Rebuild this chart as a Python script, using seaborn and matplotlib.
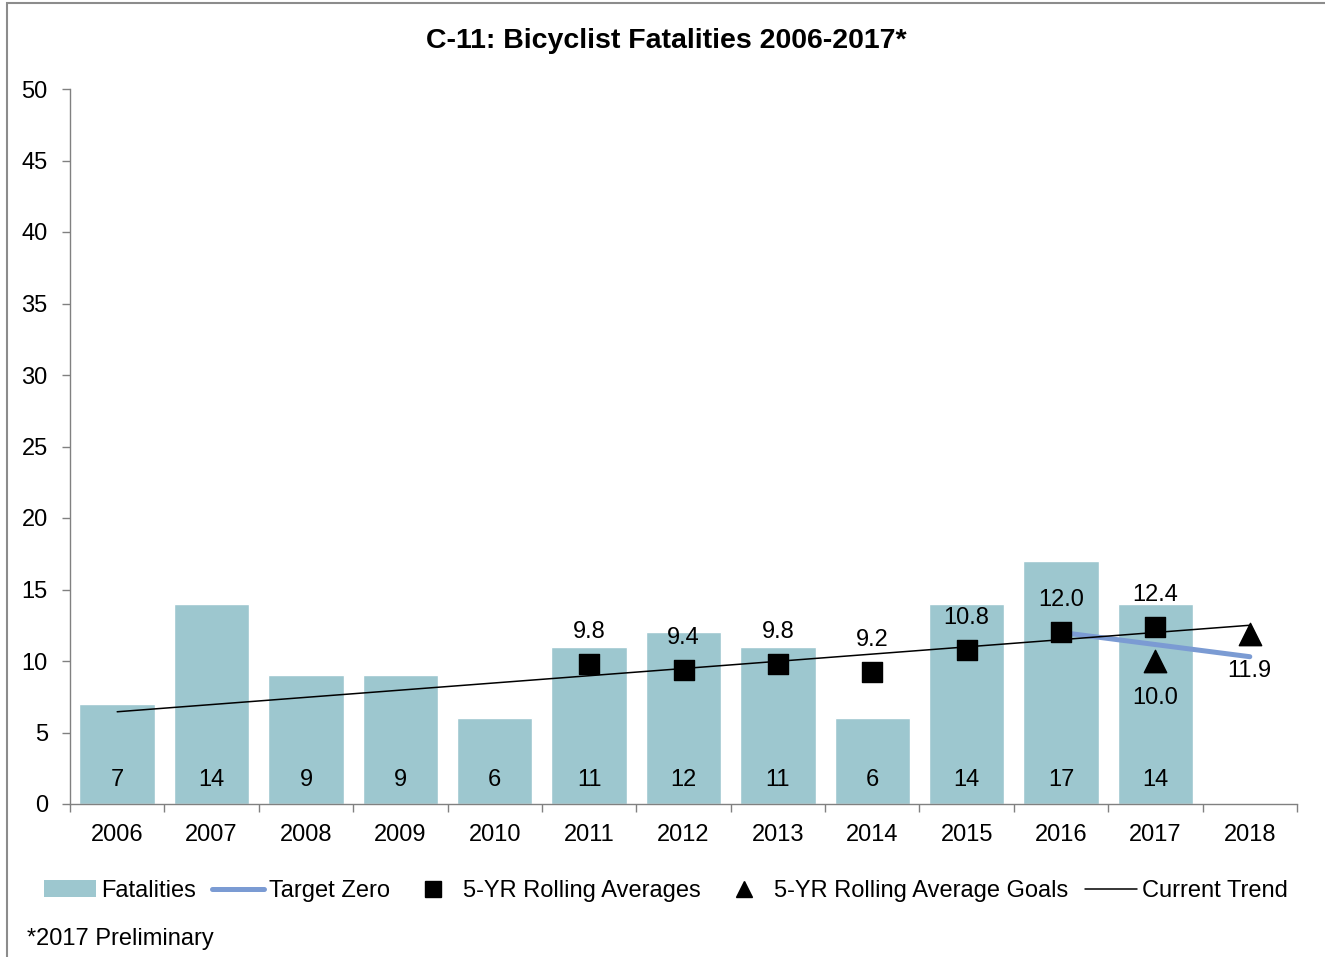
import matplotlib
matplotlib.use("Agg")
import matplotlib.pyplot as plt
import seaborn as sns
import pandas as pd
from matplotlib.lines import Line2D
from matplotlib.patches import Patch, Rectangle

# ---- data ----
years = ["2006", "2007", "2008", "2009", "2010", "2011", "2012", "2013",
         "2014", "2015", "2016", "2017", "2018"]
fatality_years = years[:12]
fatalities = [7, 14, 9, 9, 6, 11, 12, 11, 6, 14, 17, 14]
avg_years = ["2011", "2012", "2013", "2014", "2015", "2016", "2017"]
rolling_avg = [9.8, 9.4, 9.8, 9.2, 10.8, 12.0, 12.4]
goal_years = ["2017", "2018"]
goals = [10.0, 11.9]
target_years = ["2016", "2017", "2018"]
target_zero = [12.0, 11.15, 10.3]
trend_years = ["2006", "2018"]
trend = [6.45, 12.5]
yticks = [0, 5, 10, 15, 20, 25, 30, 35, 40, 45, 50]

sns.set_theme(style="white")
plt.rcParams["font.family"] = ["Liberation Sans", "DejaVu Sans"]
plt.rcParams["text.color"] = "black"
plt.rcParams["xtick.labelcolor"] = "black"
plt.rcParams["ytick.labelcolor"] = "black"

FS = 17

W, H = 1325, 957
fig = plt.figure(figsize=(W / 100, H / 100), dpi=100)
ax = fig.add_axes([70 / W, 1 - 804 / H, (1297 - 70) / W, (804 - 89) / H])

bar_color = "#9DC7CF"
df = pd.DataFrame({"year": fatality_years, "fatalities": fatalities})
sns.barplot(data=df, x="year", y="fatalities", order=years, color=bar_color,
            width=0.8, saturation=1, ax=ax, zorder=1)

pos = {y: i for i, y in enumerate(years)}

# bar labels at bottom inside bars
for y, v in zip(fatality_years, fatalities):
    ax.text(pos[y], 1.65, str(v), ha="center", va="center", fontsize=FS,
            color="black", zorder=5)

# current trend
ax.plot([pos[y] for y in trend_years], trend, color="black", lw=1.1, zorder=3)

# target zero
ax.plot([pos[y] for y in target_years], target_zero, color="#7B9BD3", lw=3.6,
        solid_capstyle="round", zorder=2)

# rolling averages
ax.scatter([pos[y] for y in avg_years], rolling_avg, marker="s", s=190,
           color="black", zorder=4)
for y, v in zip(avg_years, rolling_avg):
    ax.annotate(f"{v:.1f}", (pos[y], v), xytext=(0, 23), textcoords="offset points",
                ha="center", va="center", fontsize=FS, zorder=5)

# goals
ax.scatter([pos[y] for y in goal_years], goals, marker="^", s=260,
           color="black", zorder=4)
for y, v in zip(goal_years, goals):
    ax.annotate(f"{v:.1f}", (pos[y], v), xytext=(0, -27), textcoords="offset points",
                ha="center", va="center", fontsize=FS, zorder=5)

# axes styling
ax.set_xlim(-0.5, len(years) - 0.5)
ax.set_ylim(0, 50)
ax.set_yticks(yticks)
ax.set_yticklabels([str(t) for t in yticks], fontsize=FS)
ax.set_xticks(range(len(years)))
ax.set_xticklabels(years, fontsize=FS)
ax.set_xticks([i - 0.5 for i in range(len(years) + 1)], minor=True)
ax.tick_params(axis="x", which="major", length=0, pad=14.5)
ax.tick_params(axis="x", which="minor", length=6, width=1, color="#808080",
               direction="out", bottom=True)
ax.tick_params(axis="y", length=6, width=1, color="#808080", direction="out",
               left=True, pad=10)
ax.set_xlabel("")
ax.set_ylabel("")
for s in ["top", "right"]:
    ax.spines[s].set_visible(False)
for s in ["left", "bottom"]:
    ax.spines[s].set_color("#808080")
    ax.spines[s].set_linewidth(1)

fig.text(666 / W, 1 - 41 / H, "C-11: Bicyclist Fatalities 2006-2017*",
         ha="center", va="center", fontsize=20.5, fontweight="bold")

handles = [
    Patch(facecolor=bar_color, edgecolor="none"),
    Line2D([], [], color="#7B9BD3", lw=3.6),
    Line2D([], [], color="black", marker="s", ls="none", markersize=11),
    Line2D([], [], color="black", marker="^", ls="none", markersize=12),
    Line2D([], [], color="black", lw=1.1),
]
labels = ["Fatalities", "Target Zero", "5-YR Rolling Averages",
          "5-YR Rolling Average Goals", "Current Trend"]
fig.legend(handles, labels, loc="center", bbox_to_anchor=(666 / W, 1 - 891 / H),
           ncol=5, frameon=False, fontsize=FS, handlelength=2.2,
           handletextpad=0.2, columnspacing=0.7)

fig.text(27 / W, 1 - 939 / H, "*2017 Preliminary", ha="left", va="center",
         fontsize=FS)

# outer border
fig.add_artist(Rectangle((7 / W, -0.01), 1.2, 1 - 3 / H + 0.01,
                         transform=fig.transFigure, fill=False,
                         edgecolor="#8C8C8C", lw=1.5))

fig.savefig("out.png", dpi=100)
